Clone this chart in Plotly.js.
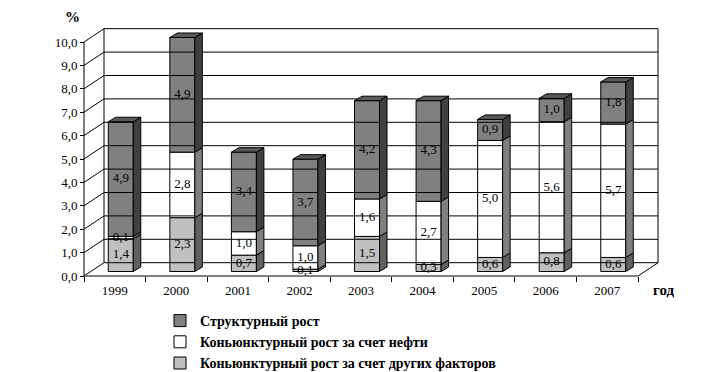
<!DOCTYPE html>
<html><head><meta charset="utf-8">
<script src="https://cdn.plot.ly/plotly-3.0.1.min.js"></script>
<style>html,body{margin:0;padding:0;background:#fff}</style>
</head><body><div id="chart" style="width:708px;height:372px"></div>
<script>
// ---- data ----
const years = ['1999','2000','2001','2002','2003','2004','2005','2006','2007'];
const other = [1.4, 2.3, 0.7, 0.1, 1.5, 0.3, 0.6, 0.8, 0.6];
const oil = [0.1, 2.8, 1.0, 1.0, 1.6, 2.7, 5.0, 5.6, 5.7];
const structural = [4.9, 4.9, 3.4, 3.7, 4.2, 4.3, 0.9, 1.0, 1.8];
const yTicks = [0,1,2,3,4,5,6,7,8,9,10];
const nameOther = 'Коньюнктурный рост за счет других факторов';
const nameOil = 'Коньюнктурный рост за счет нефти';
const nameStruct = 'Структурный рост';

// ---- geometry / style ----
const W = 708, H = 372;
const PXX = 61.56, PXY = 23.4;        // px per data unit
const X0 = 84, Y0 = 276;               // front axis origin (px)
const padL = 6, padB = 6;
const ml = X0 - padL, mr = 46, mt = 20, mb = H - Y0 - padB;
const plotW = W - ml - mr, plotH = H - mt - mb;
const n = years.length;
const xmin = -0.5 - padL / PXX, xmax = xmin + plotW / PXX;
const ymin = -padB / PXY, ymax = ymin + plotH / PXY;
const DX = 20 / PXX, DY = 13.3 / PXY;   // wall depth
const OFFX = 6 / PXX, OFFY = 4.5 / PXY; // bar placement within depth
const BW = 25 / PXX;                    // bar width
const BDX = 7.5 / PXX, BDY = 4.5 / PXY; // bar depth
const FONT = '"Liberation Serif", "Times New Roman", Times, serif';
const px2paperX = p => (p - ml) / plotW;
const px2paperY = p => (H - mb - p) / plotH;

const series = [
  {name: nameOther, vals: other, front: '#C0C0C0', side: '#606060', top: '#A0A0A0'},
  {name: nameOil, vals: oil, front: '#FFFFFF', side: '#808080', top: '#E0E0E0'},
  {name: nameStruct, vals: structural, front: '#808080', side: '#404040', top: '#5A5A5A'}
];

const traces = [];
const lineStyle = {color: '#000', width: 1};

// walls & grid
const L = -0.5, R = n - 0.5, yTop = yTicks[yTicks.length - 1];
const gx = [], gy = [];
yTicks.forEach(v => {
  gx.push(L + DX, R + DX, null, L, L + DX, null);
  gy.push(v + DY, v + DY, null, v, v + DY, null);
});
gx.push(L + DX, L + DX, null, R + DX, R + DX, null, L, L, null, L, R, R + DX, null);
gy.push(DY, yTop + DY, null, DY, yTop + DY, null, 0, yTop, null, 0, 0, DY, null);
traces.push({type: 'scatter', mode: 'lines', x: gx, y: gy, line: lineStyle,
  hoverinfo: 'skip', showlegend: false, cliponaxis: false});

// front faces as bars
const cum = new Array(n).fill(0);
const sideTraces = [], textX = [], textY = [], textT = [];
series.forEach(s => {
  const base = [], xs = [], sx = [], sy = [];
  s.vals.forEach((v, i) => {
    const y0 = cum[i] + OFFY, y1 = cum[i] + v + OFFY;
    base.push(y0); xs.push(i + OFFX);
    const xr = i + OFFX + BW / 2;
    sx.push(xr, xr + BDX, xr + BDX, xr, xr, null);
    sy.push(y0, y0 + BDY, y1 + BDY, y1, y0, null);
    textX.push(i + OFFX); textY.push((y0 + y1) / 2);
    textT.push(v.toFixed(1).replace('.', ','));
    cum[i] += v;
  });
  traces.push({type: 'bar', name: s.name, x: xs, y: s.vals, base: base, width: BW,
    marker: {color: s.front, line: lineStyle}, hoverinfo: 'skip'});
  sideTraces.push({type: 'scatter', mode: 'lines', x: sx, y: sy, fill: 'toself',
    fillcolor: s.side, line: lineStyle, hoverinfo: 'skip', showlegend: false});
});
// top faces (colored by the top series)
const tx = [], ty = [];
const topS = series[series.length - 1];
cum.forEach((t, i) => {
  const xl = i + OFFX - BW / 2, xr = i + OFFX + BW / 2, yt = t + OFFY;
  tx.push(xl, xl + BDX, xr + BDX, xr, xl, null);
  ty.push(yt, yt + BDY, yt + BDY, yt, yt, null);
});
sideTraces.push({type: 'scatter', mode: 'lines', x: tx, y: ty, fill: 'toself',
  fillcolor: topS.top, line: lineStyle, hoverinfo: 'skip', showlegend: false});
traces.push(...sideTraces);
traces.push({type: 'scatter', mode: 'text', x: textX, y: textY, text: textT,
  textfont: {family: FONT, size: 13, color: '#000'}, textposition: 'middle center',
  hoverinfo: 'skip', showlegend: false, cliponaxis: false});

const layout = {
  width: W, height: H,
  margin: {l: ml, r: mr, t: mt, b: mb, autoexpand: false},
  paper_bgcolor: '#fff', plot_bgcolor: 'rgba(0,0,0,0)',
  separators: ', ',
  barmode: 'overlay',
  font: {family: FONT, size: 12, color: '#000'},
  xaxis: {range: [xmin, xmax], anchor: 'free', position: padB / plotH,
    showgrid: false, zeroline: false, showline: false, automargin: false,
    tickmode: 'array', tickvals: years.map((_, i) => i), ticktext: years, ticks: '',
    ticklabelstandoff: 5,
    tickfont: {family: FONT, size: 13, color: '#000'},
    minor: {tickmode: 'array', tickvals: years.map((_, i) => i - 0.5).concat([n - 0.5]),
      ticks: 'outside', ticklen: 5, tickcolor: '#000', tickwidth: 1, showgrid: false}},
  yaxis: {range: [ymin, ymax], anchor: 'free', position: padL / plotW,
    showgrid: false, zeroline: false, showline: false, automargin: false,
    tickmode: 'array', tickvals: yTicks, tickformat: '.1f',
    ticks: 'outside', ticklen: 4, tickcolor: '#000',
    tickfont: {family: FONT, size: 13, color: '#000'}},
  showlegend: true,
  legend: {x: px2paperX(160), y: px2paperY(305), xanchor: 'left', yanchor: 'top',
    traceorder: 'reversed', bgcolor: 'rgba(0,0,0,0)', itemwidth: 30,
    font: {family: FONT, size: 14, color: '#000', weight: 'bold'}},
  annotations: [
    {text: '%', xref: 'paper', yref: 'paper', x: px2paperX(72), y: px2paperY(17),
      xanchor: 'center', yanchor: 'middle',
      showarrow: false, font: {family: FONT, size: 15, weight: 'bold'}},
    {text: 'год', xref: 'paper', yref: 'paper', x: px2paperX(664), y: px2paperY(290),
      xanchor: 'center', yanchor: 'middle',
      showarrow: false, font: {family: FONT, size: 15, weight: 'bold'}}
  ]
};
Plotly.newPlot('chart', traces, layout, {displayModeBar: false, staticPlot: true});
</script></body></html>
